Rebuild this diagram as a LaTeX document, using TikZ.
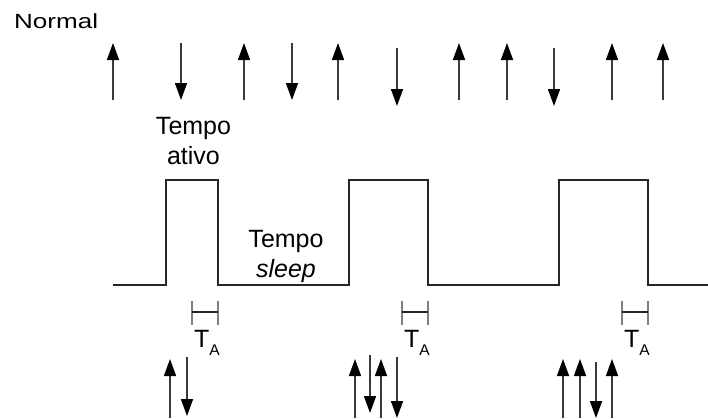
\documentclass[tikz,border=0pt]{standalone}
\usepackage{fontspec}
\usepackage{graphicx}
\setmainfont{Liberation Sans}
\newfontfamily\widefont[FakeStretch=1.27]{Liberation Sans}
\usetikzlibrary{arrows.meta}
\definecolor{shaft}{HTML}{3A3A3A}
\definecolor{wave}{HTML}{262626}
\definecolor{tick}{HTML}{808080}
\tikzset{
  sig/.style={draw=shaft, line width=1.6pt, -{Triangle[length=17pt,width=12pt,color=black]}},
  wavestyle/.style={draw=wave, line width=2pt, line join=miter},
  lbl/.style={inner sep=0pt, outer sep=0pt, font=\fontsize{25}{30}\selectfont, align=center},
  tickv/.style={draw=tick, line width=2pt},
  tickh/.style={draw=wave, line width=1.4pt},
  ta/.style={inner sep=0pt, outer sep=0pt, anchor=base west}
}
\newcommand{\TAlabel}{{\fontsize{25}{25}\selectfont T}\raisebox{-8pt}{\fontsize{15.5}{15.5}\selectfont A}}
\begin{document}
\begin{tikzpicture}[x=1pt,y=-1pt]
\useasboundingbox (0,0) rectangle (708,418);
% title
\node[inner sep=0pt, anchor=base west, font=\widefont\fontsize{20.5}{24}\selectfont] (normal) at (14,28) {Normal};
% top arrows: up
\foreach \x/\n in {113/u1,244/u2,338/u3,459/u4,507/u5,612/u6,663/u7}{
  \coordinate (\n-s) at (\x,100);
  \coordinate (\n-e) at (\x,43);
  \draw[sig] (\n-s) -- (\n-e);
}
% top arrows: down
\foreach \x/\a/\b/\n in {181/43/100/d1,292/43/100/d2,397/48/106/d3,554/48/106/d4}{
  \coordinate (\n-s) at (\x,\a);
  \coordinate (\n-e) at (\x,\b);
  \draw[sig] (\n-s) -- (\n-e);
}
% labels
\node[lbl, anchor=north] (ativo) at (193.5,117) {Tempo\\ativo};
\node[lbl, anchor=north] (sleep) at (286,230.5) {Tempo\\\textit{sleep}};
% waveform
\draw[wavestyle] (113,284.5) -- (166,284.5) -- (166,180) -- (218,180) -- (218,284.5)
  -- (349,284.5) -- (349,180) -- (428,180) -- (428,284.5)
  -- (559,284.5) -- (559,180) -- (648,180) -- (648,284.5) -- (708,284.5);
% T_A brackets
\foreach \r/\n in {218/t1,428/t2,648/t3}{
  \coordinate (\n-l) at (\r-26,312);
  \coordinate (\n-r) at (\r,312);
  \draw[tickv] (\r-26,301) -- (\r-26,325);
  \draw[tickv] (\r,301) -- (\r,325);
  \draw[tickh] (\n-l) -- (\n-r);
  \node[ta] (\n-lab) at (\r-24,347) {\TAlabel};
}
% bottom arrows
\foreach \x/\n in {170/b1,355/b3,381/b5,563/b7,580/b8,612/b10}{
  \coordinate (\n-s) at (\x,418);
  \coordinate (\n-e) at (\x,359);
  \draw[sig] (\n-s) -- (\n-e);
}
\foreach \x/\a/\b/\n in {187/357/416/b2,370/355/413/b4,397/357/418/b6,596/362/418/b9}{
  \coordinate (\n-s) at (\x,\a);
  \coordinate (\n-e) at (\x,\b);
  \draw[sig] (\n-s) -- (\n-e);
}
\end{tikzpicture}
\end{document}
